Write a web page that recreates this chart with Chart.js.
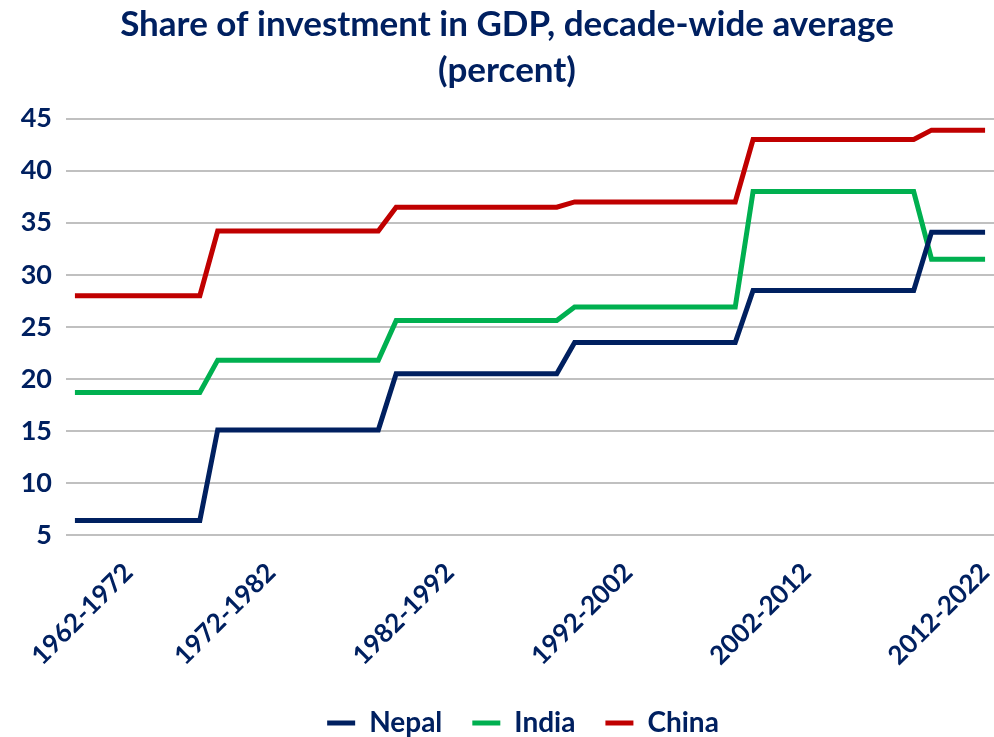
<!DOCTYPE html>
<html>
<head>
<meta charset="utf-8">
<script src="https://cdn.jsdelivr.net/npm/chart.js@4/dist/chart.umd.min.js"></script>
<style>
  html, body { margin: 0; padding: 0; background: #fff; }
  #wrap { margin-left: 20px; width: 974px; height: 737px; }
</style>
</head>
<body>
<div id="wrap"><canvas id="chart_invest"></canvas></div>
<script>
// one slot per year, decade name shown on the 4th year of each block
const periods = [
    '', '', '', '1962-1972', '', '', '', '',
    '', '', '', '1972-1982', '', '', '', '', '', '',
    '', '', '', '1982-1992', '', '', '', '', '', '',
    '', '', '', '1992-2002', '', '', '', '', '', '',
    '', '', '', '2002-2012', '', '', '', '', '', '',
    '', '', '', '2012-2022'
];

// investment / GDP (%), decade average repeated on every year of the decade
const nepal = [
    6.4, 6.4, 6.4, 6.4, 6.4, 6.4, 6.4, 6.4,
    15.1, 15.1, 15.1, 15.1, 15.1, 15.1, 15.1, 15.1, 15.1, 15.1,
    20.5, 20.5, 20.5, 20.5, 20.5, 20.5, 20.5, 20.5, 20.5, 20.5,
    23.5, 23.5, 23.5, 23.5, 23.5, 23.5, 23.5, 23.5, 23.5, 23.5,
    28.5, 28.5, 28.5, 28.5, 28.5, 28.5, 28.5, 28.5, 28.5, 28.5,
    34.1, 34.1, 34.1, 34.1
];
const india = [
    18.7, 18.7, 18.7, 18.7, 18.7, 18.7, 18.7, 18.7,
    21.8, 21.8, 21.8, 21.8, 21.8, 21.8, 21.8, 21.8, 21.8, 21.8,
    25.6, 25.6, 25.6, 25.6, 25.6, 25.6, 25.6, 25.6, 25.6, 25.6,
    26.9, 26.9, 26.9, 26.9, 26.9, 26.9, 26.9, 26.9, 26.9, 26.9,
    38.0, 38.0, 38.0, 38.0, 38.0, 38.0, 38.0, 38.0, 38.0, 38.0,
    31.5, 31.5, 31.5, 31.5
];
const china = [
    28.0, 28.0, 28.0, 28.0, 28.0, 28.0, 28.0, 28.0,
    34.2, 34.2, 34.2, 34.2, 34.2, 34.2, 34.2, 34.2, 34.2, 34.2,
    36.5, 36.5, 36.5, 36.5, 36.5, 36.5, 36.5, 36.5, 36.5, 36.5,
    37.0, 37.0, 37.0, 37.0, 37.0, 37.0, 37.0, 37.0, 37.0, 37.0,
    43.0, 43.0, 43.0, 43.0, 43.0, 43.0, 43.0, 43.0, 43.0, 43.0,
    43.9, 43.9, 43.9, 43.9
];
const yTicks = [5, 10, 15, 20, 25, 30, 35, 40, 45];

const NAVY = '#002060';
const FONT = 'Lato';

function makeSet(label, values, color){
    return {
        label: label,
        data: values,
        borderColor: color,
        backgroundColor: color,
        borderWidth: 5,
        pointRadius: 0,
        tension: 0
    };
}

//Nudge the legend row a bit to the right of the canvas centre
const legendShift = {
    id: 'legendShift',
    afterLayout: function(chart){
        chart.legend.left += 16;
        chart.legend.right += 16;
    }
};

const config = {
    type: 'line',
    data: {
        labels: periods,
        datasets: [
            makeSet('Nepal', nepal, '#002060'),
            makeSet('India', india, '#00B050'),
            makeSet('China', china, '#C00000')
        ]
    },
    plugins: [legendShift],
    options: {
        responsive: true,
        maintainAspectRatio: false,
        animation: false,
        layout: { padding: { left: 0, right: 0, top: 0, bottom: -10 } },
        scales: {
            x: {
                offset: true,
                grid: { display: false, drawTicks: false },
                border: { display: false },
                ticks: {
                    autoSkip: false,
                    minRotation: 45,
                    maxRotation: 45,
                    padding: 22,
                    color: NAVY,
                    font: { family: FONT, size: 26, weight: 'bold' }
                },
                afterFit: function(scale){
                    scale.height = 144;
                    scale.paddingLeft = 0;
                    scale.paddingRight = 0;
                }
            },
            y: {
                min: yTicks[0],
                max: yTicks[yTicks.length - 1],
                grid: { color: '#c0c0c0', lineWidth: 2, drawTicks: false },
                border: { display: false },
                ticks: {
                    stepSize: yTicks[1] - yTicks[0],
                    padding: 14,
                    color: NAVY,
                    font: { family: FONT, size: 27, weight: 'bold' }
                },
                afterFit: function(scale){
                    scale.width = 46;
                }
            }
        },
        plugins: {
            title: {
                display: true,
                text: ['Share of investment in GDP, decade-wide average', '(percent)'],
                color: NAVY,
                font: { family: FONT, size: 35, weight: 'bold', lineHeight: 1.31 },
                padding: { top: 2, bottom: 25 }
            },
            legend: {
                position: 'bottom',
                labels: {
                    boxWidth: 28,
                    boxHeight: 5,
                    padding: 30,
                    color: NAVY,
                    font: { family: FONT, size: 28, weight: 'bold' },
                    generateLabels: function(chart){
                        var items = Chart.defaults.plugins.legend.labels.generateLabels(chart);
                        items.forEach(function(it){
                            it.fillStyle = it.strokeStyle;
                            it.lineWidth = 0;
                        });
                        return items;
                    }
                }
            },
            tooltip: { enabled: false }
        }
    }
};

var grapharea = document.getElementById('chart_invest').getContext('2d');
var invest_chart = new Chart(grapharea, config);
</script>
</body>
</html>
